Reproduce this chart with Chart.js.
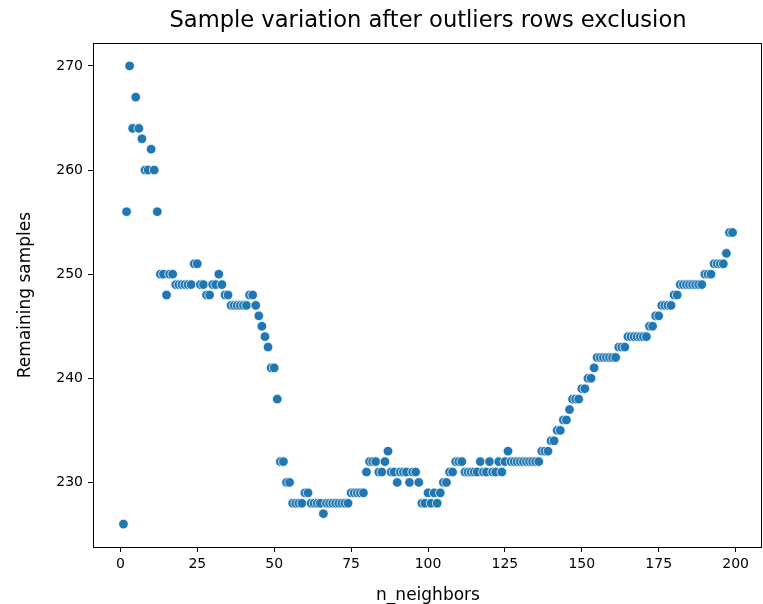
<!DOCTYPE html>
<html>
<head>
<meta charset="utf-8">
<script src="https://cdn.jsdelivr.net/npm/chart.js"></script>
<style>
  html, body { margin: 0; padding: 0; background: #ffffff; }
  #wrap { width: 763px; height: 604px; }
</style>
</head>
<body>
<div id="wrap"><canvas id="chart" width="763" height="604"></canvas></div>
<script>
// n_neighbors tested (x)
const nNeighbors = [
  1, 2, 3, 4, 5, 6, 7, 8, 9, 10, 11, 12,
  13, 14, 15, 16, 17, 18, 19, 20, 21, 22, 23, 24,
  25, 26, 27, 28, 29, 30, 31, 32, 33, 34, 35, 36,
  37, 38, 39, 40, 41, 42, 43, 44, 45, 46, 47, 48,
  49, 50, 51, 52, 53, 54, 55, 56, 57, 58, 59, 60,
  61, 62, 63, 64, 65, 66, 67, 68, 69, 70, 71, 72,
  73, 74, 75, 76, 77, 78, 79, 80, 81, 82, 83, 84,
  85, 86, 87, 88, 89, 90, 91, 92, 93, 94, 95, 96,
  97, 98, 99, 100, 101, 102, 103, 104, 105, 106, 107, 108,
  109, 110, 111, 112, 113, 114, 115, 116, 117, 118, 119, 120,
  121, 122, 123, 124, 125, 126, 127, 128, 129, 130, 131, 132,
  133, 134, 135, 136, 137, 138, 139, 140, 141, 142, 143, 144,
  145, 146, 147, 148, 149, 150, 151, 152, 153, 154, 155, 156,
  157, 158, 159, 160, 161, 162, 163, 164, 165, 166, 167, 168,
  169, 170, 171, 172, 173, 174, 175, 176, 177, 178, 179, 180,
  181, 182, 183, 184, 185, 186, 187, 188, 189, 190, 191, 192,
  193, 194, 195, 196, 197, 198, 199
];

// samples left after dropping outlier rows (y)
const remainingSamples = [
  226, 256, 270, 264, 267, 264, 263, 260, 260, 262, 260, 256,
  250, 250, 248, 250, 250, 249, 249, 249, 249, 249, 249, 251,
  251, 249, 249, 248, 248, 249, 249, 250, 249, 248, 248, 247,
  247, 247, 247, 247, 247, 248, 248, 247, 246, 245, 244, 243,
  241, 241, 238, 232, 232, 230, 230, 228, 228, 228, 228, 229,
  229, 228, 228, 228, 228, 227, 228, 228, 228, 228, 228, 228,
  228, 228, 229, 229, 229, 229, 229, 231, 232, 232, 232, 231,
  231, 232, 233, 231, 231, 230, 231, 231, 231, 230, 231, 231,
  230, 228, 228, 229, 228, 229, 228, 229, 230, 230, 231, 231,
  232, 232, 232, 231, 231, 231, 231, 231, 232, 231, 231, 232,
  231, 231, 232, 231, 232, 233, 232, 232, 232, 232, 232, 232,
  232, 232, 232, 232, 233, 233, 233, 234, 234, 235, 235, 236,
  236, 237, 238, 238, 238, 239, 239, 240, 240, 241, 242, 242,
  242, 242, 242, 242, 242, 243, 243, 243, 244, 244, 244, 244,
  244, 244, 244, 245, 245, 246, 246, 247, 247, 247, 247, 248,
  248, 249, 249, 249, 249, 249, 249, 249, 249, 250, 250, 250,
  251, 251, 251, 251, 252, 254, 254
];

const xTicks = [0, 25, 50, 75, 100, 125, 150, 175, 200];
const yTicks = [230, 240, 250, 260, 270];

const points = nNeighbors.map((n, i) => ({ x: n, y: remainingSamples[i] }));

const font = 'DejaVu Sans';

// black frame round the plot area, like matplotlib spines
const spines = {
  id: 'spines',
  afterDatasetsDraw(chart) {
    const { ctx, chartArea: a } = chart;
    ctx.save();
    ctx.strokeStyle = '#000000';
    ctx.lineWidth = 1;
    ctx.strokeRect(Math.round(a.left) + 0.5, Math.round(a.top) + 0.5,
      Math.round(a.right - a.left) - 2, Math.round(a.bottom - a.top));
    ctx.restore();
  }
};

new Chart(document.getElementById('chart'), {
  type: 'scatter',
  data: {
    datasets: [{
      data: points,
      backgroundColor: '#1f77b4',
      borderColor: '#ffffff',
      borderWidth: 0.75,
      pointRadius: 4.8,
      pointHoverRadius: 4.8
    }]
  },
  options: {
    responsive: false,
    animation: false,
    layout: { autoPadding: false, padding: { left: 0, right: 0, top: 0, bottom: 0 } },
    plugins: {
      legend: { display: false },
      tooltip: { enabled: false },
      title: {
        display: true,
        text: 'Sample variation after outliers rows exclusion',
        color: '#000000',
        fullSize: false,
        font: { family: font, size: 22.6, weight: 'normal' },
        padding: { top: 8, bottom: 7.9 }
      }
    },
    scales: {
      x: {
        type: 'linear',
        min: -8.9,
        max: 208.9,
        afterBuildTicks: s => { s.ticks = xTicks.map(v => ({ value: v })); },
        afterFit: s => { s.height = 57; s.paddingLeft = 0; s.paddingRight = 0; },
        border: { display: false },
        grid: { display: true, drawOnChartArea: false, drawTicks: true, tickLength: 5, color: '#000000' },
        ticks: { color: '#000000', padding: 4, maxRotation: 0, font: { family: font, size: 14 } },
        title: {
          display: true,
          text: 'n_neighbors',
          color: '#000000',
          font: { family: font, size: 17 },
          padding: { top: 0, bottom: -2 }
        }
      },
      y: {
        type: 'linear',
        min: 223.8,
        max: 272.2,
        afterBuildTicks: s => { s.ticks = yTicks.map(v => ({ value: v })); },
        afterFit: s => { s.width = 93; s.paddingTop = 0; s.paddingBottom = 0; },
        border: { display: false },
        grid: { display: true, drawOnChartArea: false, drawTicks: true, tickLength: 5, color: '#000000' },
        ticks: { color: '#000000', padding: 5, font: { family: font, size: 14 } },
        title: {
          display: true,
          text: 'Remaining samples',
          color: '#000000',
          font: { family: font, size: 17 },
          padding: { top: 15, bottom: 0 }
        }
      }
    }
  },
  plugins: [spines]
});
</script>
</body>
</html>
